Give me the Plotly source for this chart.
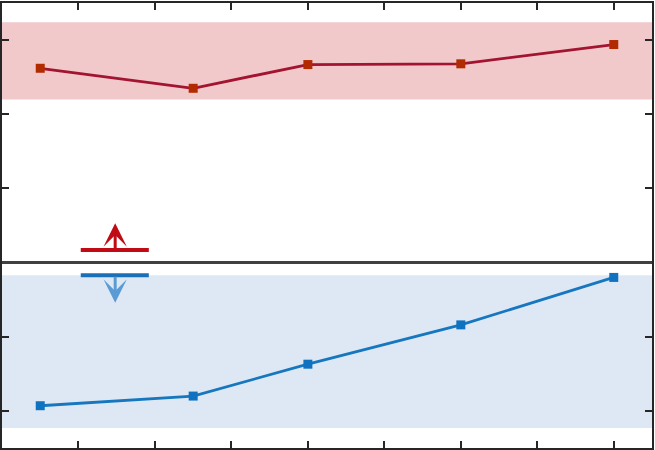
import plotly.graph_objects as go

x_vals = [0.5, 2.5, 4.0, 6.0, 8.0]
upper_vals = [2.62, 2.35, 2.67, 2.68, 2.94]
lower_vals = [-1.93, -1.80, -1.37, -0.84, -0.20]
upper_band = [2.20, 3.24]
lower_band = [-2.23, -0.17]
x_ticks = [1, 2, 3, 4, 5, 6, 7, 8]
y_ticks = [-2, -1, 0, 1, 2, 3]

fig = go.Figure()

fig.add_shape(type="rect", xref="x", yref="y", x0=0, x1=8.5, y0=upper_band[0], y1=upper_band[1],
              fillcolor="#F2C9CB", line_width=0, layer="below")
fig.add_shape(type="rect", xref="x", yref="y", x0=0, x1=8.5, y0=lower_band[0], y1=lower_band[1],
              fillcolor="#DEE8F4", line_width=0, layer="below")
fig.add_shape(type="line", xref="x", yref="y", x0=0, x1=8.5, y0=0, y1=0,
              line=dict(color="#404040", width=3))

# direction markers
fig.add_shape(type="line", xref="x", yref="y", x0=1.03, x1=1.92, y0=0.17, y1=0.17,
              line=dict(color="#C00A14", width=4))
fig.add_shape(type="line", xref="x", yref="y", x0=1.03, x1=1.92, y0=-0.17, y1=-0.17,
              line=dict(color="#1A6FB8", width=4))
fig.add_annotation(x=1.48, y=0.53, ax=1.48, ay=0.17, xref="x", yref="y", axref="x", ayref="y",
                   showarrow=True, arrowhead=3, arrowsize=1.3, arrowwidth=3, arrowcolor="#C00A14", text="")
fig.add_annotation(x=1.48, y=-0.54, ax=1.48, ay=-0.17, xref="x", yref="y", axref="x", ayref="y",
                   showarrow=True, arrowhead=3, arrowsize=1.3, arrowwidth=3, arrowcolor="#5B9BD5", text="")

fig.add_trace(go.Scatter(x=x_vals, y=upper_vals, mode="lines+markers",
                         line=dict(color="#A2142F", width=2.8),
                         marker=dict(symbol="square", size=9, color="#B22A00", line=dict(width=0))))
fig.add_trace(go.Scatter(x=x_vals, y=lower_vals, mode="lines+markers",
                         line=dict(color="#1677BF", width=2.8),
                         marker=dict(symbol="square", size=9, color="#0F72C0", line=dict(width=0))))

axis_common = dict(showgrid=False, zeroline=False, showticklabels=False, ticks="inside",
                   ticklen=7, tickwidth=1.5, tickcolor="#262626", showline=True,
                   linecolor="#262626", linewidth=2, mirror="ticks")
fig.update_xaxes(range=[0, 8.5], tickvals=x_ticks, **axis_common)
fig.update_yaxes(range=[-2.5, 3.5], tickvals=y_ticks, **axis_common)

fig.update_layout(width=655, height=450, margin=dict(l=2, r=2, t=1, b=2),
                  plot_bgcolor="white", paper_bgcolor="white", showlegend=False)

fig.write_html("out.html", config={"displayModeBar": False},
               post_script="document.body.style.margin='0';")
